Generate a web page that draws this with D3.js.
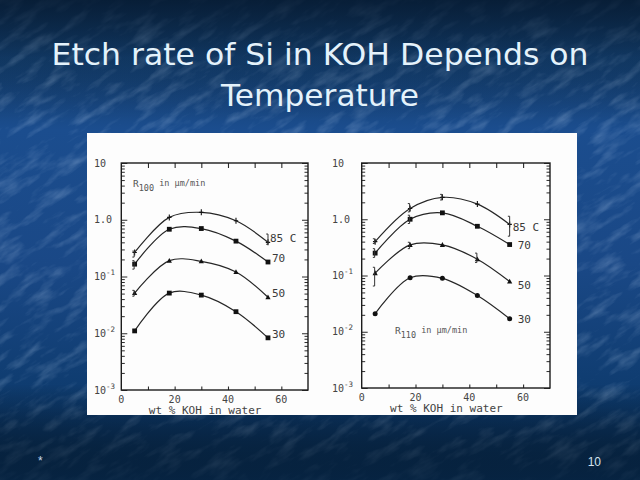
<!DOCTYPE html>
<html><head><meta charset="utf-8">
<script src="https://cdn.jsdelivr.net/npm/d3@7"></script>
<style>html,body{margin:0;padding:0;background:#123a6a;overflow:hidden} svg{display:block}</style>
</head><body>
<svg id="c" width="640" height="480"></svg>
<script>
// ---------- data ----------
const titleLines = ["Etch rate of Si in KOH Depends on", "Temperature"];
const kohWt = [5, 18, 30, 43, 55];
const tempLabels = ["85 C", "70", "50", "30"];
// R100 (um/min)
const r100_85 = [0.265, 1.10, 1.35, 0.96, 0.40];
const r100_70 = [0.165, 0.68, 0.70, 0.42, 0.18];
const r100_50 = [0.051, 0.19, 0.185, 0.12, 0.043];
const r100_30 = [0.011, 0.051, 0.047, 0.024, 0.0083];
// R110 (um/min)
const r110_85 = [0.40, 1.55, 2.45, 1.86, 0.81];
const r110_70 = [0.25, 1.00, 1.30, 0.75, 0.355];
const r110_50 = [0.11, 0.35, 0.35, 0.195, 0.078];
const r110_30 = [0.021, 0.091, 0.089, 0.044, 0.017];
// error bars: [series index, wt%, low, high]
const r100_err = [[0,55,0.37,0.56],[0,5,0.22,0.28],[1,5,0.135,0.19],[2,5,0.045,0.057]];
const r110_err = [[0,55,0.50,1.13],[0,18,1.35,1.9],[0,30,2.2,2.77],[0,5,0.37,0.45],[1,5,0.21,0.30],
                  [1,18,0.84,1.18],[2,5,0.065,0.14],[2,18,0.30,0.39],[2,43,0.17,0.25]];
const xTickValues = [10, 20, 30, 40, 50, 60];
const xTickLabels = ["0", "20", "40", "60"];
const xTickLabelValues = [0, 20, 40, 60];
const yTickValues = [10, 1, 0.1, 0.01, 0.001];
const yTickBase = ["10", "1.0", "10", "10", "10"];
const yTickExp = ["", "", "-1", "-2", "-3"];
const xAxisTitle = "wt % KOH in water";
const footerLeft = "*";
const footerRight = "10";

// ---------- drawing ----------
const svg = d3.select("#c");
const defs = svg.append("defs");
const bg = defs.append("linearGradient").attr("id","bg").attr("x1",0).attr("y1",0).attr("x2",0).attr("y2",1);
[[0,"#0b2440"],[0.12,"#123a66"],[0.27,"#1b4d8e"],[0.55,"#1a4886"],[0.85,"#0d3a6c"],[0.93,"#0a3058"],[1,"#08284a"]]
  .forEach(([o,c]) => bg.append("stop").attr("offset",o).attr("stop-color",c));
const tex = defs.append("filter").attr("id","tex").attr("x",0).attr("y",0).attr("width",1).attr("height",1);
tex.append("feTurbulence").attr("type","fractalNoise").attr("baseFrequency","0.03 0.1").attr("numOctaves",4).attr("seed",7);
tex.append("feColorMatrix").attr("type","matrix")
   .attr("values","0 0 0 0 0.65  0 0 0 0 0.8  0 0 0 0 1  0 0 0 1.7 -0.8");

svg.append("rect").attr("width",640).attr("height",480).attr("fill","url(#bg)");
svg.append("g").attr("transform","rotate(-32 320 240)")
  .append("rect").attr("x",-300).attr("y",-300).attr("width",1240).attr("height",1080)
  .attr("filter","url(#tex)").attr("opacity",0.32);
// darken top/bottom again
const fade = defs.append("linearGradient").attr("id","fade").attr("x1",0).attr("y1",0).attr("x2",0).attr("y2",1);
[[0,"#071d36",0.85],[0.12,"#0b2a4c",0.2],[0.25,"#000",0],[0.8,"#000",0],[1,"#06223f",0.75]]
  .forEach(([o,c,a]) => fade.append("stop").attr("offset",o).attr("stop-color",c).attr("stop-opacity",a));
svg.append("rect").attr("width",640).attr("height",480).attr("fill","url(#fade)");

// title
svg.append("g").selectAll("text").data(titleLines).join("text")
  .attr("x",320).attr("y",(d,i)=>65+i*41)
  .attr("text-anchor","middle")
  .attr("font-family","Tahoma, 'DejaVu Sans', sans-serif")
  .attr("font-size",30).attr("fill","#e4f2fb")
  .attr("textLength",(d,i)=> i===0 ? 537 : 198).attr("lengthAdjust","spacingAndGlyphs")
  .text(d=>d);

// footer
svg.append("text").attr("x",38).attr("y",465).attr("font-family","Arial, 'Liberation Sans', sans-serif")
  .attr("font-size",12).attr("fill","#c9dbea").text(footerLeft);
svg.append("text").attr("x",601).attr("y",466).attr("text-anchor","end").attr("font-family","Arial, 'Liberation Sans', sans-serif")
  .attr("font-size",12).attr("fill","#d6e4ef").text(footerRight);

// white panel
svg.append("rect").attr("x",87).attr("y",133).attr("width",490).attr("height",282).attr("fill","#fdfdfd");

const ink = "#2a2a2a";
const mono = "'DejaVu Sans Mono', 'Liberation Mono', monospace";

const panels = [
  {x0:121.3, x1:308, y0:163, y1:390, series:[r100_85,r100_70,r100_50,r100_30], err:r100_err,
   marks:["plus","square","tri","square"], ldx:[2,4,4,4], ldy:[-4,-4,-4,-4],
   sub:"100", nx:133, ny:187, labX:94},
  {x0:361.7, x1:550, y0:163, y1:388, series:[r110_85,r110_70,r110_50,r110_30], err:r110_err,
   marks:["plus","square","tri","circle"], ldx:[3,8,8,8], ldy:[3,0,3,0],
   sub:"110", nx:395, ny:334, labX:332}
];

panels.forEach(p => {
  const x = d3.scaleLinear().domain([0,70]).range([p.x0,p.x1]);
  const y = d3.scaleLog().domain([1e-3,10]).range([p.y1,p.y0]);
  const g = svg.append("g");
  const allY = y.ticks();
  const major = v => Math.abs(Math.log10(v) - Math.round(Math.log10(v))) < 1e-6;

  // axes with inward ticks
  const axL = d3.axisLeft(y).tickValues(allY).tickFormat("").tickSizeOuter(0).tickSizeInner(-3.5);
  const axR = d3.axisRight(y).tickValues(allY).tickFormat("").tickSizeOuter(0).tickSizeInner(-3.5);
  const gL = g.append("g").attr("transform",`translate(${p.x0},0)`).call(axL);
  const gR = g.append("g").attr("transform",`translate(${p.x1},0)`).call(axR);
  [gL,gR].forEach((ga,k) => {
    ga.selectAll(".tick line").attr("stroke",ink).attr("stroke-width",1)
      .attr("x2",d => (k===0?1:-1) * (major(d) ? 6 : 3.5));
    ga.select(".domain").remove();
  });
  const axB = d3.axisBottom(x).tickValues(xTickValues).tickFormat("").tickSizeOuter(0).tickSizeInner(-3.5);
  const axT = d3.axisTop(x).tickValues(xTickValues).tickFormat("").tickSizeOuter(0).tickSizeInner(-5);
  const gB = g.append("g").attr("transform",`translate(0,${p.y1})`).call(axB);
  const gT = g.append("g").attr("transform",`translate(0,${p.y0})`).call(axT);
  [gB,gT].forEach(ga => { ga.selectAll(".tick line").attr("stroke",ink).attr("stroke-width",1.1); ga.select(".domain").remove(); });

  // frame
  g.append("rect").attr("x",p.x0).attr("y",p.y0).attr("width",p.x1-p.x0).attr("height",p.y1-p.y0)
    .attr("fill","none").attr("stroke","#1c1c1c").attr("stroke-width",1.4);

  // y tick labels
  const yl = g.append("g").attr("font-family",mono).attr("font-size",10).attr("fill","#444");
  yTickValues.forEach((v,i) => {
    const t = yl.append("text").attr("x",p.labX).attr("y",y(v)+3.5);
    t.append("tspan").text(yTickBase[i]);
    if (yTickExp[i]) t.append("tspan").attr("font-size",7.5).attr("dy",-5).text(yTickExp[i]);
  });
  // x tick labels
  g.append("g").selectAll("text").data(xTickLabelValues).join("text")
    .attr("x",d=>x(d)).attr("y",p.y1+13).attr("text-anchor","middle")
    .attr("font-family",mono).attr("font-size",10).attr("fill","#444")
    .text((d,i)=>xTickLabels[i]);
  g.append("text").attr("x",(p.x0+p.x1)/2-9.5).attr("y",p.y1+24).attr("text-anchor","middle")
    .attr("font-family",mono).attr("font-size",11).attr("fill","#444").text(xAxisTitle);

  // note R_xxx in um/min
  const nt = g.append("text").attr("x",p.nx).attr("y",p.ny).attr("font-family",mono).attr("font-size",9.5).attr("fill","#555");
  nt.append("tspan").text("R");
  nt.append("tspan").attr("font-size",8.5).attr("dy",4).text(p.sub);
  nt.append("tspan").attr("font-size",8.5).attr("dy",-5).text(" in \u00b5m/min");

  // curves
  const line = d3.line().x(d=>x(d[0])).y(d=>y(d[1])).curve(d3.curveCatmullRom.alpha(0.5));
  p.series.forEach((s,si) => {
    const pts = kohWt.map((w,i)=>[w,s[i]]);
    g.append("path").attr("d",line(pts)).attr("fill","none").attr("stroke","#262626").attr("stroke-width",1.2);
    const mk = g.append("g").attr("fill","#111").attr("stroke","#111");
    pts.forEach(([w,v]) => {
      const cx = x(w), cy = y(v);
      const m = p.marks[si];
      if (m === "square") mk.append("rect").attr("x",cx-2.4).attr("y",cy-2.4).attr("width",4.8).attr("height",4.8).attr("stroke","none");
      else if (m === "circle") mk.append("circle").attr("cx",cx).attr("cy",cy).attr("r",2.5).attr("stroke","none");
      else if (m === "tri") mk.append("path").attr("d",`M${cx},${cy-2.8}L${cx+2.6},${cy+2}L${cx-2.6},${cy+2}Z`).attr("stroke","none");
      else { mk.append("path").attr("d",`M${cx},${cy-3}V${cy+3}M${cx-2.2},${cy}H${cx+2.2}`).attr("fill","none").attr("stroke-width",1.1); }
    });
    // series label
    g.append("text").attr("x",x(kohWt[kohWt.length-1]) + p.ldx[si]).attr("y",y(s[s.length-1]) + p.ldy[si] + 4)
      .attr("font-family",mono).attr("font-size",11).attr("fill","#3a3a3a").text(tempLabels[si]);
  });
  // error bars
  const eb = g.append("g").attr("stroke","#333").attr("stroke-width",1).attr("fill","none");
  p.err.forEach(([si,w,lo,hi]) => {
    const cx = x(w) + (w===55 ? 0 : -0.5);
    eb.append("path").attr("d",`M${cx-1.8},${y(hi)}H${cx}V${y(lo)}H${cx-1.8}`);
  });
});
</script>
</body></html>
